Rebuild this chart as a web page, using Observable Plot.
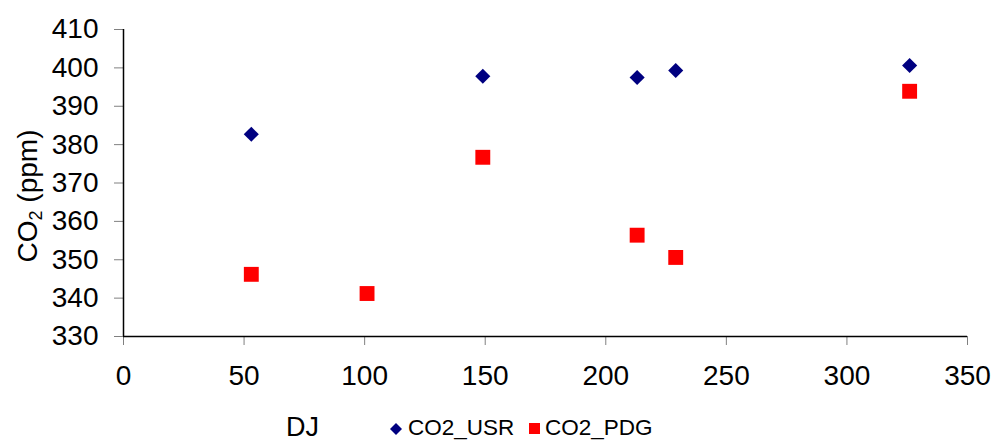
<!DOCTYPE html>
<html>
<head>
<meta charset="utf-8">
<script src="https://cdn.jsdelivr.net/npm/d3@7"></script>
<script src="https://cdn.jsdelivr.net/npm/@observablehq/plot@0.6"></script>
<style>
  html, body { margin: 0; padding: 0; background: #fff; }
  #wrap { position: relative; width: 994px; height: 441px; font-family: "Liberation Sans", Arial, sans-serif; color: #000; }
  #ylab { position: absolute; left: 28px; top: 196px; transform: translate(-50%, -50%) rotate(-90deg); font-size: 28px; white-space: nowrap; line-height: 1; }
  #ylab sub { font-size: 18px; vertical-align: -5px; line-height: 0; }
  .leg { position: absolute; white-space: nowrap; line-height: 1; }
  .leg svg { display: block; }
</style>
</head>
<body>
<div id="wrap"></div>
<script>
// Data
const dj = [53, 101, 149, 213, 229, 326];
const co2USR = [382.7, null, 397.8, 397.5, 399.3, 400.6];
const co2PDG = [346.2, 341.2, 376.7, 356.4, 350.6, 393.9];
const seriesNames = ["CO2_USR", "CO2_PDG"];
const xTicks = [0, 50, 100, 150, 200, 250, 300, 350];
const yTicks = [330, 340, 350, 360, 370, 380, 390, 400, 410];

const usr = dj.map((d, i) => ({x: d, y: co2USR[i]})).filter(d => d.y != null);
const pdg = dj.map((d, i) => ({x: d, y: co2PDG[i]}));

const font = '"Liberation Sans", Arial, sans-serif';

const chart = Plot.plot({
  width: 994,
  height: 441,
  marginLeft: 123,
  marginRight: 27,
  marginTop: 29,
  marginBottom: 105,
  style: {fontFamily: font, fontSize: "28px", background: "white", color: "black"},
  x: {domain: [0, 350], ticks: xTicks, label: null},
  y: {domain: [330, 410], ticks: yTicks, label: null},
  marks: [
    Plot.axisY(yTicks, {tickSize: 9, tickPadding: 16, stroke: "#808080", fill: "black", fontSize: 28, label: null}),
    Plot.axisX(xTicks, {tickSize: 9, tickPadding: 20, stroke: "#808080", fill: "black", fontSize: 28, label: null}),
    Plot.ruleX([0], {stroke: "black", strokeWidth: 1.5}),
    Plot.ruleY([330], {stroke: "black", strokeWidth: 1.5}),
    Plot.dot(usr, {x: "x", y: "y", symbol: "diamond2", r: 6.8, fill: "#000080", stroke: null}),
    Plot.dot(pdg, {x: "x", y: "y", symbol: "square", r: 8.4, fill: "#FF0000", stroke: null})
  ]
});

const wrap = document.getElementById("wrap");
wrap.appendChild(chart);

const ylab = document.createElement("div");
ylab.id = "ylab";
ylab.innerHTML = "CO<sub>2</sub> (ppm)";
wrap.appendChild(ylab);

function addLeg(html, left, top, size) {
  const d = document.createElement("div");
  d.className = "leg";
  d.style.left = left + "px";
  d.style.top = top + "px";
  if (size) d.style.fontSize = size + "px";
  d.innerHTML = html;
  wrap.appendChild(d);
}
addLeg("DJ", 286, 414, 27);
addLeg('<svg width="12" height="12"><path d="M6,0L12,6L6,12L0,6Z" fill="#000080"/></svg>', 390, 423);
addLeg(seriesNames[0], 408, 417, 22.5);
addLeg('<svg width="11" height="11"><rect width="11" height="11" fill="#FF0000"/></svg>', 529, 423);
addLeg(seriesNames[1], 545, 417, 22.5);
</script>
</body>
</html>
